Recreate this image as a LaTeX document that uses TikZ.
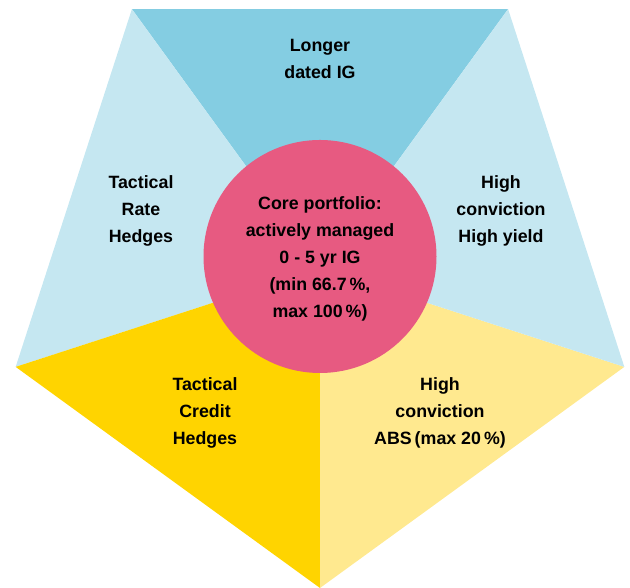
\documentclass[tikz,border=0pt]{standalone}
\usepackage{fontspec}
\setmainfont{Liberation Sans}
\definecolor{deepblue}{HTML}{84CDE2}
\definecolor{paleblue}{HTML}{C5E7F1}
\definecolor{gold}{HTML}{FFD400}
\definecolor{paleyellow}{HTML}{FFE98F}
\definecolor{corepink}{HTML}{E75A81}
\tikzset{%
label/.style={align=center,font=\fontsize{17.8}{26.8}\selectfont\bfseries,text=black},
sector/.style={fill=#1},
}
\begin{document}
\begin{tikzpicture}[x=1pt,y=1pt]
        \useasboundingbox (0,0) rectangle (630,588);
        \coordinate (C) at (320,320);
        \foreach \a [count=\i] in {54,126,198,270,342}
            \path (C) ++(\a:320) coordinate (P\i);
        % five sectors
        \fill[sector=deepblue] (C)--(P1)--(P2)--cycle;
        \fill[sector=paleblue] (C)--(P2)--(P3)--cycle;
        \fill[sector=gold] (C)--(P3)--(P4)--cycle;
        \fill[sector=paleyellow] (C)--(P4)--(P5)--cycle;
        \fill[sector=paleblue] (C)--(P5)--(P1)--cycle;
        \fill[corepink] (320,331.5) circle (116.5);
        \node[label] (core) at (320,329) {Core portfolio:\\actively managed\\0 - 5 yr IG\\(min 66.7\,\%,\\max 100\,\%)};
        \node[label] (ig) at (320,529) {Longer\\dated IG};
        \node[label] (rate) at (141,377) {Tactical\\Rate\\Hedges};
        \node[label] (hy) at (501,377) {High\\conviction\\High yield};
        \node[label] (credit) at (205,175) {Tactical\\Credit\\Hedges};
        \node[label] (abs) at (440,175) {High\\conviction\\ABS\,(max 20\,\%)};
\end{tikzpicture}
\end{document}
